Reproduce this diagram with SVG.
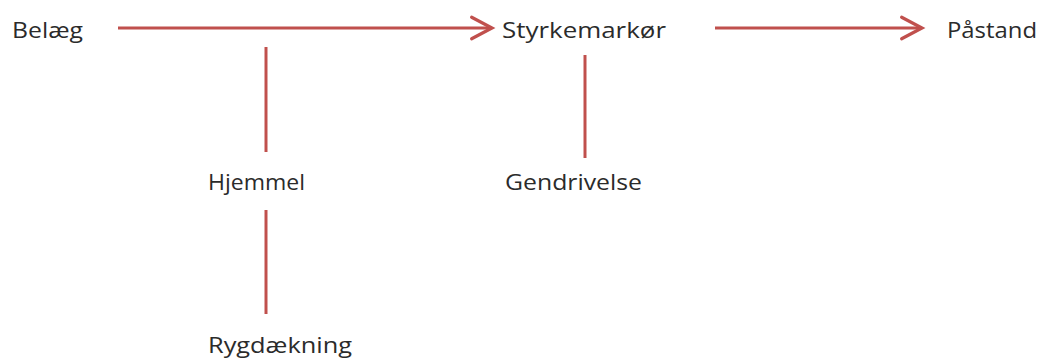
<svg xmlns="http://www.w3.org/2000/svg" width="1041" height="359" viewBox="0 0 1041 359">
  <style>
    .lbl { font-family: "Open Sans", "Liberation Sans", sans-serif; font-size: 21px; fill: #2b2b2b; }
    .conn { stroke: #C0504D; stroke-width: 3; fill: none; }
  </style>
  <defs>
    <marker id="chev" markerUnits="userSpaceOnUse" markerWidth="30" markerHeight="30" viewBox="-24 -13 28 26" refX="0" refY="0" orient="auto">
      <path d="M-19,-10 L0,0 L-19,10" stroke="#C0504D" stroke-width="3" fill="none" stroke-linecap="round" stroke-linejoin="miter"/>
    </marker>
  </defs>
  <rect width="1041" height="359" fill="#ffffff"/>
  <g id="connectors">
    <line class="conn" x1="118" y1="28" x2="492" y2="28" marker-end="url(#chev)"/>
    <line class="conn" x1="715" y1="28" x2="922" y2="28" marker-end="url(#chev)"/>
    <line class="conn" x1="266" y1="47" x2="266" y2="152"/>
    <line class="conn" x1="266" y1="210" x2="266" y2="314"/>
    <line class="conn" x1="585" y1="55" x2="585" y2="158"/>
  </g>
  <g id="belaeg"><text class="lbl" x="12" y="38" textLength="71" lengthAdjust="spacingAndGlyphs">Belæg</text></g>
  <g id="styrkemarkoer"><text class="lbl" x="502" y="38" textLength="164" lengthAdjust="spacingAndGlyphs">Styrkemarkør</text></g>
  <g id="paastand"><text class="lbl" x="947" y="38" textLength="90" lengthAdjust="spacingAndGlyphs">Påstand</text></g>
  <g id="hjemmel"><text class="lbl" x="208" y="190" textLength="97" lengthAdjust="spacingAndGlyphs">Hjemmel</text></g>
  <g id="gendrivelse"><text class="lbl" x="505" y="190" textLength="137" lengthAdjust="spacingAndGlyphs">Gendrivelse</text></g>
  <g id="rygdaekning"><text class="lbl" x="208" y="353" textLength="144" lengthAdjust="spacingAndGlyphs">Rygdækning</text></g>
</svg>
